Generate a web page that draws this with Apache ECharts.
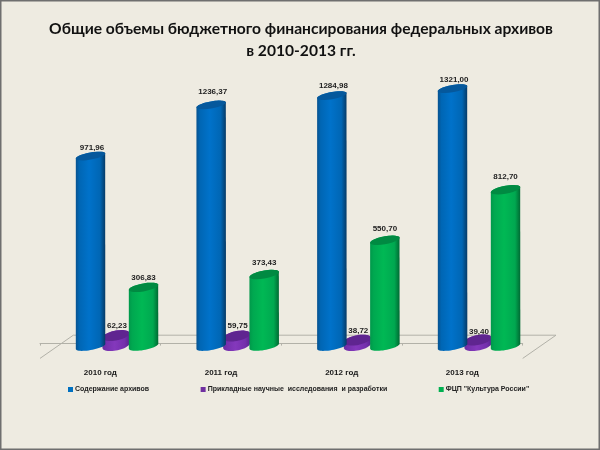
<!DOCTYPE html>
<html><head><meta charset="utf-8">
<script src="https://cdn.jsdelivr.net/npm/echarts@6/dist/echarts.min.js"></script>
<style>html,body{margin:0;padding:0;background:#eeebe1}#c{width:600px;height:450px}</style>
</head><body><div id="c"></div>
<script>
const categories = ['2010 год','2011 год','2012 год','2013 год'];
const maintenance = [971.96,1236.37,1284.98,1321.00];
const research = [62.23,59.75,38.72,39.40];
const culture = [306.83,373.43,550.70,812.70];
const seriesNames = ['Содержание архивов','Прикладные научные  исследования  и разработки','ФЦП "Культура России"'];
const titleText = 'Общие объемы бюджетного финансирования федеральных архивов\nв 2010-2013 гг.';

const fmt = v => v.toFixed(2).replace('.', ',');
function lg(a,b,c,d){return new echarts.graphic.LinearGradient(0,0,1,0,[
  {offset:0,color:a},{offset:.12,color:b},{offset:.45,color:c},{offset:.82,color:b},{offset:1,color:d}]);}
const looks = [
 {dx:-9.8,w:29.5,depth:0,ry:3.6,shift:2.9,lab:[-8,-13,-9.5,-9],labdx:1.5,grad:()=>lg('#07528f','#0066b4','#0072ca','#063a66'),top:'#05589c',legend:'#0070c0'},
 {dx:15.6,w:27,  depth:4,ry:5,  shift:2,  lab:[-10,-10,-9.5,-8.5],labdx:1,grad:()=>lg('#6a2ca0','#7430ac','#8438bc','#5a2490'),top:'#5f2590',legend:'#7030a0'},
 {dx:43.2,w:29.5,depth:3,ry:4,  shift:2.5,lab:[-9.6,-11.7,-12,-12.6],labdx:0,grad:()=>lg('#00984a','#00a850','#00b854','#006a33'),top:'#008a42',legend:'#00b050'}
];
const SHEAR = 0.17;

function arc(cx,cy,rx,ry,from,to){
  const pts=[]; const n=24;
  for(let i=0;i<=n;i++){const t=from+(to-from)*i/n;
    pts.push([cx+rx*Math.cos(t), cy+ry*Math.sin(t)-SHEAR*rx*Math.cos(t)]);}
  return pts;
}
function cylinder(idx){
  const look=looks[idx];
  return function(params,api){
    const c=api.coord([api.value(0),api.value(1)]);
    const b=api.coord([api.value(0),0]);
    const cx=c[0]+look.dx, rx=look.w/2, ry=look.ry;
    const topY=c[1]+look.depth, botY=b[1]+look.shift;
    const body=arc(cx,botY,rx,ry,Math.PI,0).concat(arc(cx,topY,rx,ry,0,-Math.PI).slice(1));
    const lidPts=arc(cx,topY,rx,ry,0,2*Math.PI);
    return {type:'group',children:[
      {type:'polygon',shape:{points:body},style:{fill:look.grad()}},
      {type:'polygon',shape:{points:lidPts},style:{fill:look.top}},
      {type:'text',style:{text:fmt(api.value(1)),x:cx+look.labdx,y:topY+look.lab[params.dataIndex],align:'center',verticalAlign:'middle',
        font:'bold 8px "Liberation Sans"',fill:'#222'}}
    ]};
  };
}
function floor(params){
  const g=params.coordSys; const fy=g.y+g.height+14.8, by=fy-23.2, dx=33.3;
  const l=g.x, r=g.x+g.width;
  return {type:'polyline',shape:{points:[[l,fy],[l+dx,by],[r+dx,by],[r,fy]]},
    style:{fill:null,stroke:'#b2b1a8',lineWidth:1},silent:true};
}
const series=[{type:'custom',name:'_floor',data:[[0,0]],renderItem:floor,z:1,silent:true,encode:{x:0,y:1}}];
[maintenance,research,culture].forEach((vals,i)=>{
  series.push({type:'custom',name:seriesNames[i],z:i===0?3:(i===1?2:4),
    itemStyle:{color:looks[i].legend},
    data:vals.map((v,k)=>[k,v]),renderItem:cylinder(i),encode:{x:0,y:1}});
});
const chart=echarts.init(document.getElementById('c'),null,{renderer:'canvas'});
chart.setOption({
  animation:false,backgroundColor:'#eeebe1',
  title:{text:titleText,left:296,top:13,textAlign:'center',
    textStyle:{fontFamily:'Lato, "Open Sans"',fontWeight:'bold',fontSize:15.6,lineHeight:22,color:'#111'}},
  grid:{left:40,right:77.3,top:54.1,bottom:106.4},
  xAxis:{type:'category',data:categories,offset:14.8,
    axisLine:{lineStyle:{color:'#b2b1a8'}},axisTick:{show:true,alignWithLabel:false,length:2,lineStyle:{color:'#b2b1a8'}},
    axisLabel:{margin:10,color:'#1a1a1a',fontFamily:'Liberation Sans',fontWeight:'bold',fontSize:8}},
  yAxis:{type:'value',min:0,max:1500,show:false},
  legend:{data:seriesNames,left:63,top:381,itemWidth:5,itemHeight:5,itemGap:51.5,icon:'rect',
    textStyle:{color:'#222',fontFamily:'Liberation Sans',fontWeight:'bold',fontSize:7,padding:[0,0,0,-3]}},
  graphic:[{type:'rect',shape:{x:0.5,y:0.5,width:599,height:449},style:{fill:null,stroke:'#6f6f6f',lineWidth:2},silent:true,z:100}],
  series:series
});
</script></body></html>
